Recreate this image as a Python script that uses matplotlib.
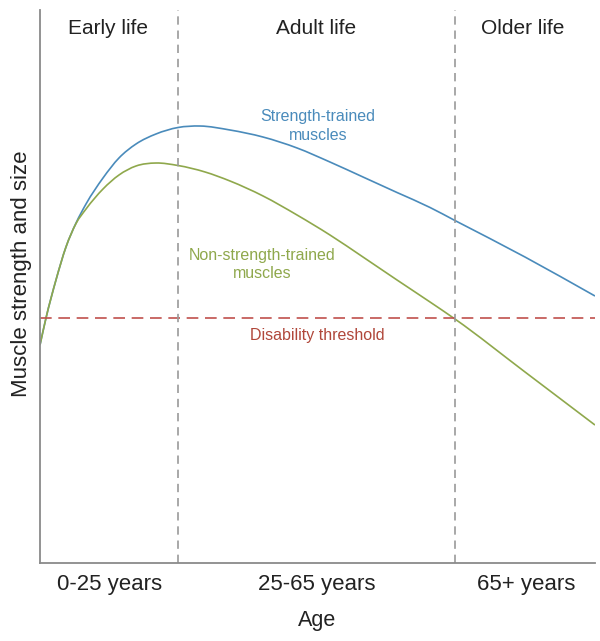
import matplotlib
matplotlib.use('Agg')
import matplotlib.pyplot as plt
import numpy as np
from matplotlib.path import Path
from matplotlib.patches import PathPatch

plt.rcParams['font.family'] = ['Liberation Sans', 'DejaVu Sans']

# Life course position (0-100, arbitrary units) and muscle strength (0-100)
trained_x = [0, 1.08, 2.88, 4.68, 6.49, 8.29, 11.35, 14.23, 17.30, 20.90, 24.86, 28.83,
             34.23, 40.18, 46.31, 52.25, 58.20, 64.32, 70.27, 74.77, 87.39, 100]
trained_y = [39.42, 44.30, 51.18, 57.14, 61.48, 64.92, 69.62, 73.24, 75.77, 77.58, 78.75, 79.02,
             78.30, 77.03, 75.05, 72.51, 69.80, 67.00, 64.29, 61.93, 55.33, 48.28]

untrained_x = [0, 1.08, 2.88, 4.68, 6.49, 8.29, 11.35, 14.23, 17.30, 20.90, 24.86, 29.73,
               34.23, 40.18, 46.31, 52.25, 58.20, 64.32, 70.27, 74.77, 87.39, 100]
untrained_y = [39.42, 44.30, 51.18, 57.14, 61.39, 64.01, 67.63, 70.16, 71.79, 72.33, 71.88, 70.71,
               69.08, 66.37, 62.93, 59.31, 55.33, 51.18, 47.20, 44.12, 34.54, 24.95]

threshold = 44.3
stage_bounds = [24.9, 74.8]
stage_names = ['Early life', 'Adult life', 'Older life']
stage_centers = [12.3, 49.7, 87.0]
age_labels = ['0-25 years', '25-65 years', '65+ years']
age_ticks = [12.6, 49.9, 87.6]

blue = '#4a8bbb'
green = '#8fa84c'
red = '#c0504d'


def smooth_path(xs, ys):
    # cubic Hermite through the read points (slopes from neighbouring points),
    # drawn as Bezier segments
    x = np.asarray(xs, float)
    y = np.asarray(ys, float)
    h = np.diff(x)
    d = np.diff(y) / h
    m = np.empty_like(x)
    m[0], m[-1] = d[0], d[-1]
    m[1:-1] = (h[1:] * d[:-1] + h[:-1] * d[1:]) / (h[:-1] + h[1:])
    verts = [(x[0], y[0])]
    codes = [Path.MOVETO]
    for i in range(len(x) - 1):
        verts += [(x[i] + h[i] / 3, y[i] + m[i] * h[i] / 3),
                  (x[i + 1] - h[i] / 3, y[i + 1] - m[i + 1] * h[i] / 3),
                  (x[i + 1], y[i + 1])]
        codes += [Path.CURVE4] * 3
    return Path(verts, codes)


fig = plt.figure(figsize=(6, 6.41), dpi=100)
ax = fig.add_axes([40 / 600, 1 - 563 / 641, 555 / 600, 553 / 641])

ax.add_patch(PathPatch(smooth_path(trained_x, trained_y), fc='none', ec=blue, lw=1.2))
ax.add_patch(PathPatch(smooth_path(untrained_x, untrained_y), fc='none', ec=green, lw=1.2))

ax.axhline(threshold, color=red, lw=1.2, dashes=(7, 4))
for b in stage_bounds:
    ax.axvline(b, color='#9a9a9a', lw=1.2, dashes=(5, 3.5))

for name, cx in zip(stage_names, stage_centers):
    ax.text(cx, 96.6, name, ha='center', va='center', fontsize=15, color='#222222')

ax.text(50.1, 79.0, 'Strength-trained\nmuscles', ha='center', va='center',
        fontsize=11.5, color=blue, linespacing=1.3)
ax.text(40.0, 54.0, 'Non-strength-trained\nmuscles', ha='center', va='center',
        fontsize=11.5, color=green, linespacing=1.3)
ax.text(49.9, 41.2, 'Disability threshold', ha='center', va='center',
        fontsize=11.5, color='#b0473a')

ax.set_xlim(0, 100)
ax.set_ylim(0, 100)
ax.set_xticks(age_ticks)
ax.set_xticklabels(age_labels, fontsize=16, color='#222222')
ax.tick_params(axis='x', length=0, pad=8)
ax.set_yticks([])
ax.set_xlabel('Age', fontsize=15.5, color='#222222', labelpad=11)
ax.set_ylabel('Muscle strength and size', fontsize=16, color='#222222')
ax.yaxis.set_label_coords(-0.014, 0.523)

for s in ['top', 'right']:
    ax.spines[s].set_visible(False)
for s in ['left', 'bottom']:
    ax.spines[s].set_color('#8a8a8a')
    ax.spines[s].set_linewidth(1.3)

fig.savefig('out.png', dpi=100)
